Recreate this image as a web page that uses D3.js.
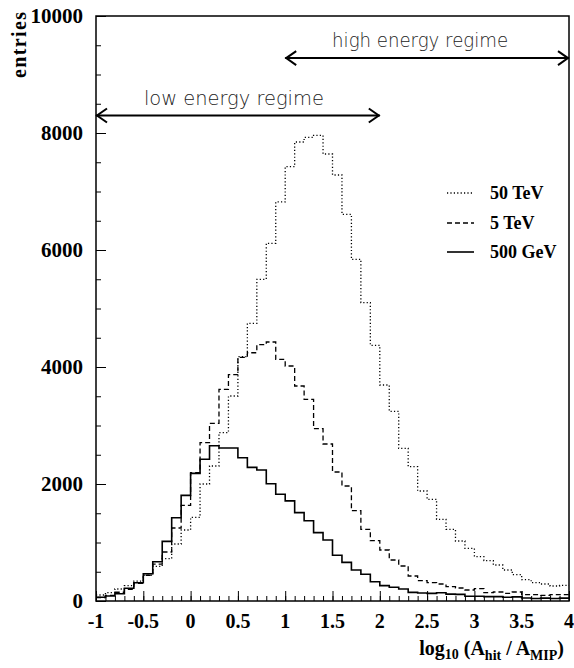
<!DOCTYPE html>
<html>
<head>
<meta charset="utf-8">
<script src="https://cdn.jsdelivr.net/npm/d3@7"></script>
<style>
  html, body { margin: 0; padding: 0; background: #fff; }
  svg { display: block; }
</style>
</head>
<body>
<svg id="chart" width="574" height="668"></svg>
<script>
// Bin layout: 50 bins of width 0.1 in log10(A_hit / A_MIP), from -1 to 4
const binStart = -1;
const binWidth = 0.1;

// Entries per bin, 500 GeV
const gev500 = [63, 85, 125, 217, 313, 467, 672, 1020, 1424, 1806,
  2182, 2422, 2655, 2615, 2615, 2450, 2285, 2239, 2005, 1824,
  1712, 1510, 1373, 1168, 1043, 781, 661, 530, 456, 330,
  262, 234, 205, 148, 138, 131, 142, 117, 114, 80,
  80, 74, 74, 63, 70, 51, 42, 50, 42, 50];

// Entries per bin, 5 TeV
const tev5 = [60, 95, 150, 200, 300, 440, 630, 838, 1248, 1635,
  2194, 2707, 3037, 3618, 3868, 4165, 4244, 4381, 4427, 4131,
  4017, 3675, 3447, 2946, 2684, 2205, 1966, 1544, 1225, 1031,
  872, 701, 598, 427, 347, 313, 291, 245, 222, 188,
  211, 142, 154, 131, 154, 108, 108, 97, 108, 108];

// Entries per bin, 50 TeV
const tev50 = [103, 142, 205, 262, 340, 444, 593, 723, 974, 1214,
  1430, 2000, 2308, 2877, 3504, 4177, 4746, 5499, 6114, 6821,
  7425, 7846, 7926, 7960, 7641, 7282, 6610, 5840, 5100, 4370,
  3692, 3242, 2610, 2296, 1880, 1738, 1396, 1225, 1026, 900,
  758, 690, 615, 530, 450, 365, 313, 291, 256, 268];

const seriesNames = ["50 TeV", "5 TeV", "500 GeV"];

const xTicks = [-1, -0.5, 0, 0.5, 1, 1.5, 2, 2.5, 3, 3.5, 4];
const xTickLabels = ["-1", "-0.5", "0", "0.5", "1", "1.5", "2", "2.5", "3", "3.5", "4"];
const yTicks = [0, 2000, 4000, 6000, 8000, 10000];
const yTickLabels = ["0", "2000", "4000", "6000", "8000", "10000"];

// Energy-regime ranges (x from, x to, height in entries)
const lowRegime = { label: "low energy regime", from: -1, to: 2, level: 8300 };
const highRegime = { label: "high energy regime", from: 1, to: 4, level: 9280 };

// ---- drawing ----
const svg = d3.select("#chart");
const L = 96, R = 569, T = 16, B = 601;

const x = d3.scaleLinear().domain([-1, 4]).range([L, R]);
const y = d3.scaleLinear().domain([0, 10000]).range([B, T]);

const serif = "'Liberation Serif', 'Times New Roman', serif";

// histogram outlines
function stepPoints(vals) {
  const pts = vals.map((v, i) => [binStart + i * binWidth, v]);
  pts.push([binStart + vals.length * binWidth, vals[vals.length - 1]]);
  return pts;
}
const stepLine = d3.line().x(d => x(d[0])).y(d => y(d[1])).curve(d3.curveStepAfter);

const styles = [
  { data: tev50, dash: "1.2,2.2", width: 1.3 },
  { data: tev5, dash: "5,3", width: 1.3 },
  { data: gev500, dash: null, width: 1.6 }
];

const gPlot = svg.append("g");
styles.forEach(s => {
  gPlot.append("path")
    .attr("d", stepLine(stepPoints(s.data)))
    .attr("fill", "none")
    .attr("stroke", "#000")
    .attr("stroke-width", s.width)
    .attr("stroke-dasharray", s.dash);
});

// frame
svg.append("rect")
  .attr("x", L).attr("y", T)
  .attr("width", R - L).attr("height", B - T)
  .attr("fill", "none").attr("stroke", "#000").attr("stroke-width", 1.5);

// x axis: major ticks every 0.5, minor every 0.1, pointing into the plot
const xAxis = d3.axisBottom(x).tickValues(xTicks).tickSize(-10).tickFormat("");
const xMinor = d3.axisBottom(x).tickValues(d3.range(0, 51).map(i => -1 + i * 0.1)).tickSize(-5).tickFormat("");
[xMinor, xAxis].forEach(ax => {
  const g = svg.append("g").attr("transform", `translate(0,${B})`).call(ax);
  g.select(".domain").remove();
  g.selectAll("line").attr("stroke", "#000").attr("stroke-width", 1);
});

// y axis: major ticks every 2000, minor every 500
const yAxis = d3.axisLeft(y).tickValues(yTicks).tickSize(-10).tickFormat("");
const yMinor = d3.axisLeft(y).tickValues(d3.range(0, 21).map(i => i * 500)).tickSize(-5).tickFormat("");
[yMinor, yAxis].forEach(ax => {
  const g = svg.append("g").attr("transform", `translate(${L},0)`).call(ax);
  g.select(".domain").remove();
  g.selectAll("line").attr("stroke", "#000").attr("stroke-width", 1);
});

// tick labels
svg.append("g").selectAll("text").data(xTicks).join("text")
  .attr("x", d => x(d)).attr("y", 628)
  .attr("text-anchor", "middle")
  .attr("font-family", serif).attr("font-weight", "bold").attr("font-size", 20)
  .text((d, i) => xTickLabels[i]);

svg.append("g").selectAll("text").data(yTicks).join("text")
  .attr("x", 83).attr("y", d => y(d) + 7)
  .attr("text-anchor", "end")
  .attr("font-family", serif).attr("font-weight", "bold").attr("font-size", 21)
  .text((d, i) => yTickLabels[i]);

// axis titles
svg.append("text")
  .attr("transform", "translate(26,78) rotate(-90)")
  .attr("font-family", serif).attr("font-weight", "bold").attr("font-size", 20)
  .attr("textLength", 66)
  .text("entries");

const xt = svg.append("text")
  .attr("x", 564).attr("y", 655)
  .attr("text-anchor", "end")
  .attr("font-family", serif).attr("font-weight", "bold").attr("font-size", 20);
xt.append("tspan").text("log");
xt.append("tspan").attr("font-size", 14).attr("dy", 4).text("10");
xt.append("tspan").attr("dy", -4).text(" (A");
xt.append("tspan").attr("font-size", 14).attr("dy", 5).text("hit");
xt.append("tspan").attr("dy", -5).text(" / A");
xt.append("tspan").attr("font-size", 14).attr("dy", 5).text("MIP");
xt.append("tspan").attr("dy", -5).text(")");

// regime arrows
function regime(r, pos) {
  const x0 = x(r.from), x1 = x(r.to), yy = y(r.level);
  const g = svg.append("g").attr("fill", "none").attr("stroke", "#000").attr("stroke-width", 2);
  g.append("line").attr("x1", x0).attr("x2", x1).attr("y1", yy).attr("y2", yy);
  g.append("path").attr("d", `M${x0 + 11},${yy - 7}L${x0 + 1},${yy}L${x0 + 11},${yy + 7}`);
  g.append("path").attr("d", `M${x1 - 11},${yy - 7}L${x1 - 1},${yy}L${x1 - 11},${yy + 7}`);
  svg.append("text")
    .attr("x", (x0 + x1) / 2 + pos.dx).attr("y", yy - pos.dy)
    .attr("text-anchor", "middle")
    .attr("font-family", "'DejaVu Sans', sans-serif").attr("font-weight", 200)
    .attr("font-size", 19)
    .attr("textLength", pos.len).attr("lengthAdjust", "spacingAndGlyphs")
    .attr("fill", "#222")
    .text(r.label);
}
regime(lowRegime, { dx: -4, dy: 10, len: 180 });
regime(highRegime, { dx: -7, dy: 11, len: 176 });

// legend
const legY = [193, 223, 252];
const leg = svg.append("g");
styles.forEach((s, i) => {
  leg.append("line")
    .attr("x1", 447).attr("x2", 474).attr("y1", legY[i]).attr("y2", legY[i])
    .attr("stroke", "#000").attr("stroke-width", s.width)
    .attr("stroke-dasharray", s.dash);
  leg.append("text")
    .attr("x", 490).attr("y", legY[i] + 6)
    .attr("font-family", serif).attr("font-weight", "bold").attr("font-size", 18)
    .text(seriesNames[i]);
});
</script>
</body>
</html>
